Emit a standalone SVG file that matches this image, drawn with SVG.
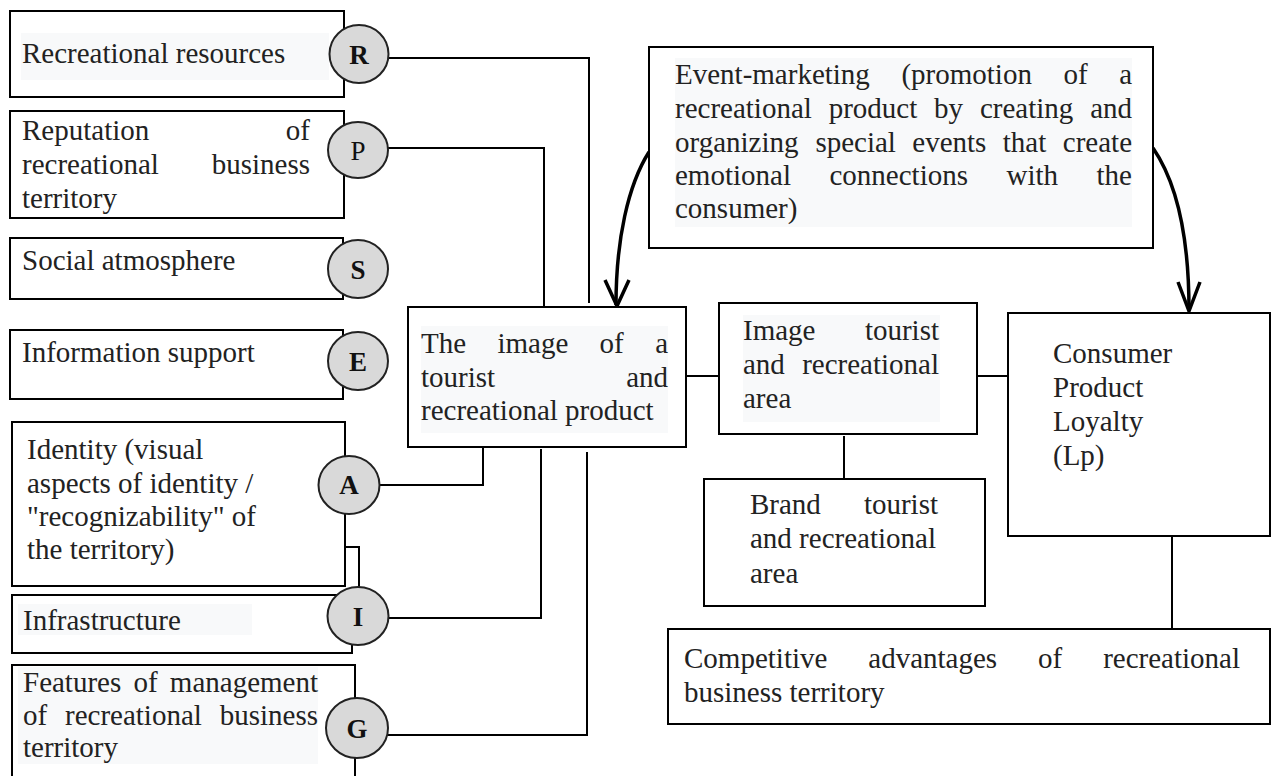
<svg xmlns="http://www.w3.org/2000/svg" width="1272" height="776" viewBox="0 0 1272 776">
<style>
.box{fill:#fff;stroke:#000;stroke-width:2}
.open{fill:none;stroke:#000;stroke-width:2}
.hl{fill:#f8f9fa}
.t{font-family:"Liberation Serif","Times New Roman",serif;font-size:29px;fill:#222}
.e{text-anchor:end}
.c{fill:#d9d9d9;stroke:#222;stroke-width:2}
.cl{font-family:"Liberation Serif","Times New Roman",serif;font-size:27px;font-weight:bold;text-anchor:middle;fill:#111}
.reg{font-weight:normal}
.ln{fill:none;stroke:#000;stroke-width:2}
.arr{fill:none;stroke:#000;stroke-width:3.5;stroke-linejoin:miter}
</style>
<rect width="1272" height="776" fill="#fff"/>
<g id="connectors">
<path class="ln" d="M389,58 H589 V303"/>
<path class="ln" d="M388,148 H544 V307"/>
<path class="ln" d="M379,485 H483 V447"/>
<path class="ln" d="M345,547 H359 V587"/>
<path class="ln" d="M388,618 H541 V449"/>
<path class="ln" d="M387,735 H587 V452"/>
<path class="ln" d="M686,376 H719"/>
<path class="ln" d="M977,376 H1012"/>
<path class="ln" d="M844,436 V483"/>
<path class="ln" d="M1172,536 V629"/>
<path class="arr" d="M649,152 C628,185 616,240 616,305"/>
<polyline class="arr" points="605,280 617,306 629,280"/>
<path class="arr" d="M1153,148 C1175,180 1189,230 1189,310"/>
<polyline class="arr" points="1178,282 1189,311 1200,282"/>
</g>
<g id="node-R">
<rect class="box" x="10" y="11" width="334" height="86"/>
<rect class="hl" x="21" y="33" width="308" height="47"/>
<text class="t" x="22" y="63">Recreational resources</text>
<ellipse class="c" cx="359" cy="54" rx="29.5" ry="29"/>
<text class="cl" x="359" y="63.5">R</text>
</g>
<g id="node-P">
<rect class="box" x="10" y="111" width="334" height="107"/>
<text class="t" x="22" y="140">Reputation</text>
<text class="t e" x="310" y="140">of</text>
<text class="t" x="22" y="174">recreational</text>
<text class="t e" x="310" y="174">business</text>
<text class="t" x="22" y="208">territory</text>
<ellipse class="c" cx="358" cy="150" rx="30" ry="28"/>
<text class="cl reg" x="358" y="160">P</text>
</g>
<g id="node-S">
<rect class="box" x="10" y="238" width="333" height="61"/>
<text class="t" x="22" y="270">Social atmosphere</text>
<ellipse class="c" cx="358" cy="269" rx="30" ry="29"/>
<text class="cl" x="358" y="278.5">S</text>
</g>
<g id="node-E">
<rect class="box" x="10" y="330" width="333" height="69"/>
<text class="t" x="22" y="362">Information support</text>
<ellipse class="c" cx="358" cy="361" rx="30" ry="29"/>
<text class="cl" x="358" y="370.5">E</text>
</g>
<g id="node-A">
<rect class="box" x="12" y="422" width="333" height="164"/>
<text class="t" x="27" y="459">Identity (visual</text>
<text class="t" x="27" y="493">aspects of identity /</text>
<text class="t" x="27" y="526">"recognizability" of</text>
<text class="t" x="27" y="559">the territory)</text>
<ellipse class="c" cx="349" cy="485" rx="30.5" ry="29"/>
<text class="cl" x="349" y="494">A</text>
</g>
<g id="node-I">
<rect class="box" x="12" y="595" width="340" height="58"/>
<rect class="hl" x="18" y="604" width="234" height="31"/>
<text class="t" x="23" y="630">Infrastructure</text>
<ellipse class="c" cx="358" cy="616" rx="30.5" ry="29"/>
<text class="cl" x="358" y="625.5">I</text>
</g>
<g id="node-G">
<path class="open" d="M12,780 V665 H355 V780"/>
<rect class="hl" x="18" y="667" width="300" height="97"/>
<text class="t" x="23" y="692">Features</text>
<text class="t" x="133.5" y="692">of</text>
<text class="t e" x="318" y="692">management</text>
<text class="t" x="23" y="725">of</text>
<text class="t" x="65" y="725">recreational</text>
<text class="t e" x="318" y="725">business</text>
<text class="t" x="23" y="757">territory</text>
<ellipse class="c" cx="357" cy="728" rx="31" ry="30"/>
<text class="cl" x="357" y="737.5">G</text>
</g>
<g id="node-image-product">
<rect class="box" x="408" y="307" width="278" height="140"/>
<rect class="hl" x="421" y="326" width="247" height="107"/>
<text class="t" x="421" y="353">The</text>
<text class="t" x="497.5" y="353">image</text>
<text class="t" x="599.6" y="353">of</text>
<text class="t e" x="668" y="353">a</text>
<text class="t" x="421" y="387">tourist</text>
<text class="t e" x="668" y="387">and</text>
<text class="t" x="421" y="420">recreational product</text>
</g>
<g id="node-image-area">
<rect class="box" x="719" y="303" width="258" height="131"/>
<rect class="hl" x="743" y="315" width="197" height="107"/>
<text class="t" x="743" y="340">Image</text>
<text class="t e" x="939" y="340">tourist</text>
<text class="t" x="743" y="374">and</text>
<text class="t e" x="939" y="374">recreational</text>
<text class="t" x="743" y="408">area</text>
</g>
<g id="node-brand">
<rect class="box" x="704" y="479" width="281" height="127"/>
<text class="t" x="750" y="514">Brand</text>
<text class="t e" x="938" y="514">tourist</text>
<text class="t" x="750" y="548">and recreational</text>
<text class="t" x="750" y="583">area</text>
</g>
<g id="node-loyalty">
<rect class="box" x="1008" y="313" width="262" height="223"/>
<text class="t" x="1053" y="363">Consumer</text>
<text class="t" x="1053" y="397">Product</text>
<text class="t" x="1053" y="431">Loyalty</text>
<text class="t" x="1053" y="465">(Lp)</text>
</g>
<g id="node-competitive">
<rect class="box" x="668" y="629" width="602" height="95"/>
<text class="t" x="684" y="668">Competitive</text>
<text class="t" x="868.3" y="668">advantages</text>
<text class="t" x="1038" y="668">of</text>
<text class="t e" x="1240" y="668">recreational</text>
<text class="t" x="684" y="702">business territory</text>
</g>
<g id="node-event">
<rect class="box" x="649" y="47" width="504" height="201"/>
<rect class="hl" x="675" y="58" width="457" height="169"/>
<text class="t" x="675" y="84">Event-marketing</text>
<text class="t" x="901.4" y="84">(promotion</text>
<text class="t" x="1063.4" y="84">of</text>
<text class="t e" x="1132" y="84">a</text>
<text class="t" x="675" y="118">recreational</text>
<text class="t" x="828.7" y="118">product</text>
<text class="t" x="934.1" y="118">by</text>
<text class="t" x="979.9" y="118">creating</text>
<text class="t e" x="1132" y="118">and</text>
<text class="t" x="675" y="152">organizing</text>
<text class="t" x="815.4" y="152">special</text>
<text class="t" x="912.3" y="152">events</text>
<text class="t" x="1002.8" y="152">that</text>
<text class="t e" x="1132" y="152">create</text>
<text class="t" x="675" y="185">emotional</text>
<text class="t" x="829.5" y="185">connections</text>
<text class="t" x="1006.5" y="185">with</text>
<text class="t e" x="1132" y="185">the</text>
<text class="t" x="675" y="218">consumer)</text>
</g>
</svg>
